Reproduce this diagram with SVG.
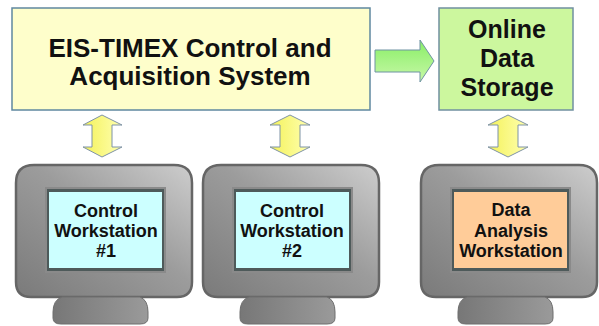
<svg xmlns="http://www.w3.org/2000/svg" width="599" height="326" viewBox="0 0 599 326">
<defs>
<linearGradient id="bodyG" x1="0" y1="1" x2="1" y2="0">
<stop offset="0" stop-color="#7a7a7a"/>
<stop offset="0.55" stop-color="#9c9c9c"/>
<stop offset="1" stop-color="#cdcdcd"/>
</linearGradient>
<linearGradient id="standG" x1="0" y1="0" x2="1" y2="0">
<stop offset="0" stop-color="#777"/>
<stop offset="1" stop-color="#9a9a9a"/>
</linearGradient>
<linearGradient id="yelG" x1="0" y1="0" x2="1" y2="0">
<stop offset="0" stop-color="#f4f25a"/>
<stop offset="1" stop-color="#ffffb0"/>
</linearGradient>
<linearGradient id="grnG" x1="0" y1="0" x2="0" y2="1">
<stop offset="0" stop-color="#88ee66"/>
<stop offset="1" stop-color="#c8f8a8"/>
</linearGradient>
<g id="monitor">
<path d="M34,165 H174 Q192,165 192,183 V282 Q192,297 177,297 H31 Q16,297 16,282 V183 Q16,165 34,165 Z" fill="url(#bodyG)" stroke="#666" stroke-width="2.5"/>
<path d="M62,297 H140 Q148,300 148,312 V318 Q148,324 140,324 H61 Q53,324 53,318 V312 Q53,300 62,297 Z" fill="url(#standG)" stroke="#6e6e6e" stroke-width="1"/>
<rect x="45" y="187" width="121" height="86" fill="#8a8a8a"/>
<rect x="47" y="189" width="117" height="82" fill="#4e5a5a"/>
</g>
</defs>
<style>
.t{font-family:"Liberation Sans",Arial,sans-serif;font-weight:bold;fill:#111;text-anchor:middle}
.ya{fill:url(#yelG);stroke:#7f93a6;stroke-width:1}
</style>
<g id="connectors">
<path class="ya" d="M102,115 L122,125 H112 V147 H122 L102,157 L83,147 H92 V125 H83 Z"/>
<path class="ya" d="M290,115 L310,125 H300 V147 H310 L290,157 L270,147 H280 V125 H270 Z"/>
<path class="ya" d="M508,115 L528,125 H518 V147 H528 L508,157 L488,147 H498 V125 H488 Z"/>
<path d="M375,50 H420 V40 L434,61 L420,82 V72 H375 Z" fill="url(#grnG)" stroke="#6f93a3" stroke-width="1"/>
</g>
<g id="control-system">
<rect x="12" y="8" width="358" height="102" fill="#fefecb" stroke="#5f88a0" stroke-width="1.5"/>
<text class="t" x="190" y="57" font-size="26">EIS-TIMEX Control and</text>
<text class="t" x="190" y="85" font-size="26">Acquisition System</text>
</g>
<g id="storage">
<rect x="439" y="8" width="134" height="102" fill="#ccf79e" stroke="#7090a0" stroke-width="1.5"/>
<text class="t" x="507" y="38" font-size="25">Online</text>
<text class="t" x="507" y="67" font-size="25">Data</text>
<text class="t" x="507" y="96" font-size="25">Storage</text>
</g>
<g id="workstation1">
<use href="#monitor"/>
<rect x="49" y="192" width="113" height="76" fill="#ccffff"/>
<text class="t" x="106" y="217" font-size="18">Control</text>
<text class="t" x="106" y="237" font-size="18">Workstation</text>
<text class="t" x="106" y="257" font-size="18">#1</text>
</g>
<g id="workstation2">
<use href="#monitor" transform="translate(187,0)"/>
<rect x="236" y="192" width="113" height="76" fill="#ccffff"/>
<text class="t" x="292" y="217" font-size="18">Control</text>
<text class="t" x="292" y="237" font-size="18">Workstation</text>
<text class="t" x="292" y="257" font-size="18">#2</text>
</g>
<g id="workstation3">
<use href="#monitor" transform="translate(405,0)"/>
<rect x="454" y="192" width="113" height="76" fill="#ffcc99"/>
<text class="t" x="511" y="216" font-size="18">Data</text>
<text class="t" x="511" y="237" font-size="18">Analysis</text>
<text class="t" x="511" y="257" font-size="18">Workstation</text>
</g>
</svg>
